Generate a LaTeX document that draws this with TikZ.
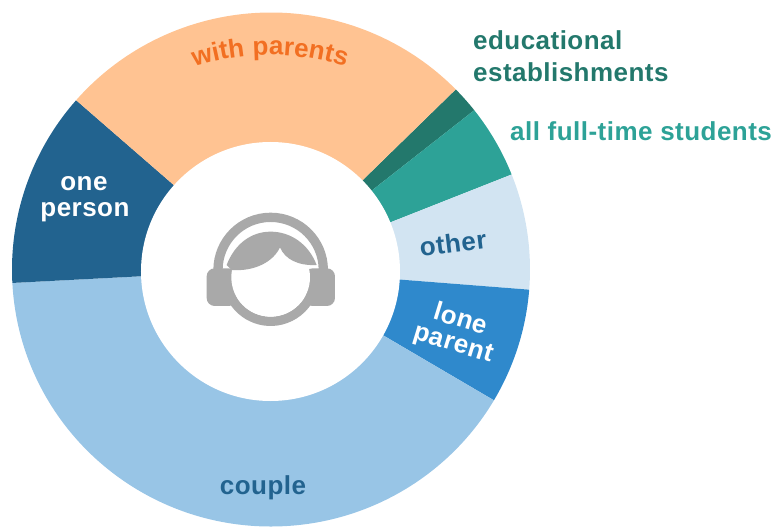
\documentclass[tikz,border=0pt]{standalone}
\usepackage{fontspec}
\usetikzlibrary{decorations.text}
\setmainfont{Liberation Sans}[BoldFont={Liberation Sans Bold}]
\newfontfamily\lblfont{Liberation Sans Bold}[LetterSpace=1.8]
\definecolor{peach}{HTML}{FFC392}
\definecolor{orangetxt}{HTML}{F26F22}
\definecolor{darkblue}{HTML}{22638F}
\definecolor{lightblue}{HTML}{98C5E6}
\definecolor{midblue}{HTML}{2F89CC}
\definecolor{paleblue}{HTML}{D2E4F2}
\definecolor{teal1}{HTML}{2DA297}
\definecolor{teal2}{HTML}{23786C}
\definecolor{icongray}{HTML}{A9A9A9}
\newcommand{\wedgeseg}[3]{\fill[#1] (0,-0.5) -- ++(#2:259 and 257) arc[start angle=#2,end angle=#3,x radius=259,y radius=257] -- cycle;}
\tikzset{lbl/.style={font=\lblfont\fontsize{26}{26}\selectfont,inner sep=0pt,anchor=center}}
\begin{document}
\begin{tikzpicture}[x=1pt,y=1pt]
\useasboundingbox (-271,-258) rectangle (500,269);
\wedgeseg{teal2}{38.3}{44.5}
\wedgeseg{teal1}{21.7}{38.3}
\wedgeseg{paleblue}{-4.5}{21.7}
\wedgeseg{midblue}{-30.6}{-4.5}
\wedgeseg{lightblue}{183}{329.4}
\wedgeseg{darkblue}{138.8}{183}
\wedgeseg{peach}{44.5}{138.8}
\fill[white] (-0.5,-2.5) circle[radius=129.5];
\begin{scope}[shift={(-91,79)},x=0.3333pt,y=-0.3333pt]
  \fill[icongray,rounded corners=8pt] (80,235) rectangle (170,348);
  \fill[icongray,rounded corners=8pt] (374,235) rectangle (465,348);
  \draw[icongray,line width=9.3pt] (272,262) ++(160:132) arc[start angle=160,end angle=20,radius=132];
  \draw[icongray,line width=9.3pt] (114,240) arc[start angle=180,end angle=360,radius=158];
  \fill[white] (272,262) circle[radius=118];
  \fill[icongray] (140,225) .. controls (165,160) and (215,125) .. (272,125)
    .. controls (330,125) and (385,160) .. (410,225)
    .. controls (355,228) and (315,208) .. (300,172)
    .. controls (280,215) and (225,245) .. (155,240) -- cycle;
\end{scope}
\path[decorate,decoration={text along path,text align=center,
  text={|\lblfont\fontsize{26}{26}\selectfont\color{orangetxt}|with parents}}]
  (-1,-33) ++(125:247) arc[start angle=125,end angle=55,radius=247];
\node[lbl,text=white] (o1) at (-187,85) {one};
\node[lbl,text=white] (o2) at (-186,57) {person};
\node[lbl,text=darkblue,rotate=7] (ot) at (182,26) {other};
\node[lbl,text=white,rotate=-17] (l1) at (190,-49) {lone};
\node[lbl,text=white,rotate=-17] (l2) at (182,-76) {parent};
\node[lbl,text=darkblue] (c) at (-8,-219) {couple};
\node[lbl,text=teal2,anchor=west] (e1) at (202,229) {educational};
\node[lbl,text=teal2,anchor=west] (e2) at (202,197) {establishments};
\node[lbl,text=teal1,anchor=west] (s) at (239,138) {all full-time students};
\end{tikzpicture}
\end{document}
